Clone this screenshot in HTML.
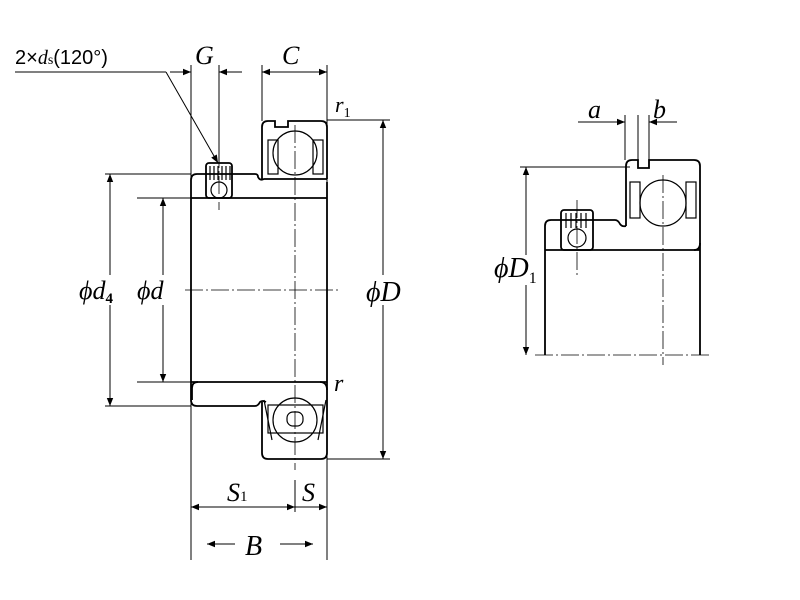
<!DOCTYPE html>
<html><head><meta charset="utf-8"><style>
html,body{margin:0;padding:0;background:#fff;width:800px;height:600px;overflow:hidden}
svg{display:block}
.t{font-family:"Liberation Serif",serif;font-style:italic;fill:#000}
</style></head><body>
<svg width="800" height="600" viewBox="0 0 800 600" xmlns="http://www.w3.org/2000/svg">
<defs>
<marker id="a" viewBox="0 0 10 10" refX="10" refY="5" markerWidth="10" markerHeight="8" orient="auto-start-reverse" markerUnits="userSpaceOnUse"><path d="M0,1 L10,5 L0,9 Z" fill="#000"/></marker>
</defs>
<g fill="none" stroke="#000" stroke-width="1">
<line x1="15" y1="72" x2="166" y2="72"/>
<line x1="166" y1="72" x2="218" y2="163" marker-end="url(#a)"/>
<line x1="191" y1="65" x2="191" y2="560"/>
<line x1="219" y1="65" x2="219" y2="163"/>
<line x1="170" y1="72" x2="191" y2="72" marker-end="url(#a)"/>
<line x1="242" y1="72" x2="219" y2="72" marker-end="url(#a)"/>
<line x1="262" y1="65" x2="262" y2="121"/>
<line x1="327" y1="65" x2="327" y2="560"/>
<line x1="262" y1="72" x2="327" y2="72" marker-start="url(#a)" marker-end="url(#a)"/>
<line x1="327" y1="120" x2="390" y2="120"/>
<line x1="327" y1="459" x2="390" y2="459"/>
<line x1="383" y1="120" x2="383" y2="459" marker-start="url(#a)" marker-end="url(#a)"/>
<line x1="105" y1="174" x2="191" y2="174"/>
<line x1="105" y1="406" x2="191" y2="406"/>
<line x1="110" y1="174" x2="110" y2="406" marker-start="url(#a)" marker-end="url(#a)"/>
<line x1="137" y1="198" x2="191" y2="198"/>
<line x1="137" y1="382" x2="191" y2="382"/>
<line x1="163" y1="198" x2="163" y2="382" marker-start="url(#a)" marker-end="url(#a)"/>
<line x1="295" y1="480" x2="295" y2="512"/>
<line x1="191" y1="507" x2="295" y2="507" marker-start="url(#a)" marker-end="url(#a)"/>
<line x1="295" y1="507" x2="327" y2="507" marker-end="url(#a)"/>
<line x1="235" y1="544" x2="207" y2="544" marker-end="url(#a)"/>
<line x1="280" y1="544" x2="313" y2="544" marker-end="url(#a)"/>
</g>
<g fill="none" stroke="#000" stroke-width="1.8">
<path d="M191,382 L191,198 L191,180 Q191,174 197,174 L255,174 Q258,174 258,177 Q260,181 264,179 L327,179"/>
<path d="M191,198 L327,198"/>
<path d="M191,382 L327,382"/>
<path d="M327,182 L327,398"/>
<path d="M191,382 L191,400 Q191,406 197,406 L255,406 Q258,406 260,402 Q262,400 266,402"/>
<path d="M198,382 Q192,382 192,388 L192,400"/>
<path d="M320,382 Q327,382 327,390"/>
<path d="M262,179 L262,127 Q262,121 268,121 L275,121 L275,127 L288,127 L288,121 L321,121 Q327,121 327,127 L327,179"/>
<path d="M262,402 L262,453 Q262,459 268,459 L321,459 Q327,459 327,453 L327,398"/>
<rect x="206" y="163" width="26" height="35" rx="3"/>
</g>
<g fill="none" stroke="#000" stroke-width="1.2">
<line x1="210" y1="166" x2="210" y2="180"/><line x1="214" y1="166" x2="214" y2="180"/><line x1="218" y1="166" x2="218" y2="180"/><line x1="222" y1="166" x2="222" y2="180"/><line x1="226" y1="166" x2="226" y2="180"/><line x1="230" y1="166" x2="230" y2="180"/>
<circle cx="219" cy="190" r="8"/>
<circle cx="295" cy="153" r="22"/>
<circle cx="295" cy="420" r="22"/>
<rect x="268" y="140" width="10" height="34"/><rect x="313" y="140" width="10" height="34"/>
<rect x="268" y="405" width="55" height="28"/>
<rect x="287" y="412" width="16" height="14" rx="6"/>
<line x1="264" y1="400" x2="272" y2="440"/><line x1="326" y1="400" x2="318" y2="440"/>
</g>
<g stroke="#000" stroke-width="0.8" stroke-dasharray="18,3,2,3" fill="none">
<line x1="185" y1="290" x2="338" y2="290"/>
<line x1="295" y1="125" x2="295" y2="470"/>
<line x1="219" y1="150" x2="219" y2="210"/>
<line x1="535" y1="355" x2="712" y2="355"/>
<line x1="663" y1="175" x2="663" y2="365"/>
<line x1="577" y1="200" x2="577" y2="275"/>
</g>
<g fill="none" stroke="#000" stroke-width="1">
<line x1="578" y1="122" x2="625" y2="122" marker-end="url(#a)"/>
<line x1="677" y1="122" x2="649" y2="122" marker-end="url(#a)"/>
<line x1="625" y1="115" x2="625" y2="160"/>
<line x1="638" y1="115" x2="638" y2="167"/>
<line x1="649" y1="115" x2="649" y2="167"/>
<line x1="520" y1="167" x2="630" y2="167"/>
<line x1="526" y1="167" x2="526" y2="355" marker-start="url(#a)" marker-end="url(#a)"/>
</g>
<g fill="none" stroke="#000" stroke-width="1.8">
<path d="M545,355 L545,226 Q545,220 551,220 L615,220 Q618,220 620,224 Q622,227 626,226"/>
<path d="M545,250 L700,250"/>
<path d="M626,226 L626,166 Q626,160 632,160 L638,160 L638,168 L649,168 L649,160 L694,160 Q700,160 700,166 L700,355"/>
<path d="M700,243 Q700,250 694,250"/>
<rect x="561" y="210" width="32" height="40" rx="3"/>
</g>
<g fill="none" stroke="#000" stroke-width="1.2">
<circle cx="663" cy="203" r="23"/>
<circle cx="577" cy="238" r="9"/>
<rect x="630" y="182" width="10" height="36"/><rect x="686" y="182" width="10" height="36"/>
<line x1="566" y1="213" x2="566" y2="228"/><line x1="571" y1="213" x2="571" y2="228"/><line x1="576" y1="213" x2="576" y2="228"/><line x1="581" y1="213" x2="581" y2="228"/><line x1="586" y1="213" x2="586" y2="228"/>
</g>
<text x="15" y="64" font-family="Liberation Sans,sans-serif" font-size="20">2×<tspan font-family="Liberation Serif,serif" font-style="italic">d</tspan><tspan font-family="Liberation Serif,serif" font-size="14">s</tspan>(120°)</text>
<text class="t" x="195" y="64" font-size="26">G</text>
<text class="t" x="282" y="64" font-size="26">C</text>
<text class="t" x="335" y="112" font-size="22">r<tspan font-size="14" font-style="normal" dy="5">1</tspan></text>
<text class="t" x="334" y="391" font-size="24">r</text>
<rect x="80" y="275" width="42" height="30" fill="#fff"/>
<text class="t" x="79" y="299" font-size="26">ϕd<tspan font-size="15" font-weight="bold" font-style="normal" dy="4">4</tspan></text>
<rect x="137" y="275" width="34" height="30" fill="#fff"/>
<text class="t" x="137" y="299" font-size="26">ϕd</text>
<rect x="366" y="275" width="44" height="30" fill="#fff"/>
<text class="t" x="366" y="301" font-size="28">ϕD</text>
<text class="t" x="227" y="501" font-size="26">S<tspan font-size="15" font-style="normal">1</tspan></text>
<text class="t" x="302" y="501" font-size="26">S</text>
<text class="t" x="245" y="555" font-size="28">B</text>
<text class="t" x="588" y="118" font-size="26">a</text>
<text class="t" x="653" y="118" font-size="26">b</text>
<rect x="494" y="255" width="48" height="30" fill="#fff"/>
<text class="t" x="494" y="277" font-size="28">ϕD<tspan font-size="16" font-style="normal" dy="6">1</tspan></text>
</svg>
</body></html>
